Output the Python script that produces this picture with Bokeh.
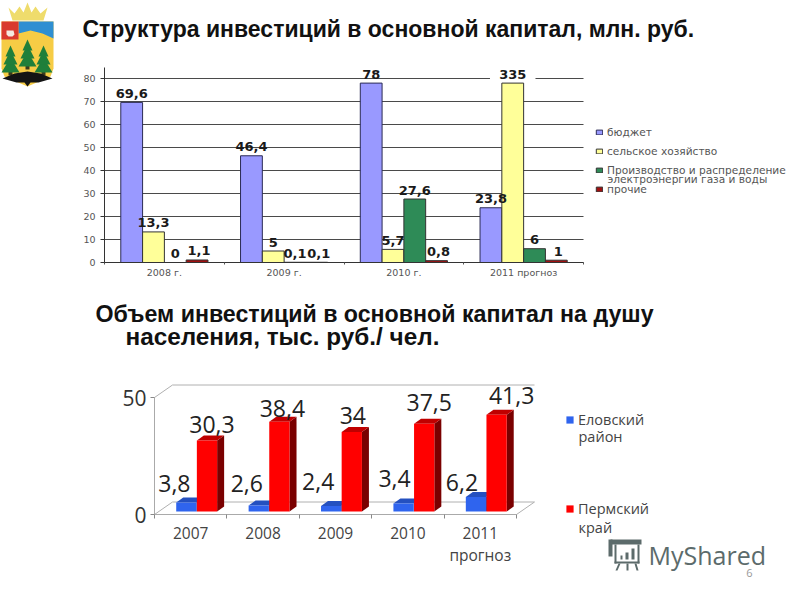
import numpy as np
from bokeh.plotting import figure
from bokeh.layouts import column
from bokeh.models import ColumnDataSource, Range1d, FixedTicker, LinearAxis, Legend, LegendItem
from bokeh.core.properties import value
from bokeh.embed import file_html
from bokeh.resources import INLINE

# ---- data: chart 1
periods = ["2008 г.", "2009 г.", "2010 г.", "2011 прогноз"]
budget = [69.6, 46.4, 78, 23.8]
agriculture = [13.3, 5, 5.7, 335]
energy = [0, 0.1, 27.6, 6]
others = [1.1, 0.1, 0.8, 1]
struct_names = ["бюджет", "сельское хозяйство", "Производство и распределение", "прочие"]
struct_name_cont = "электроэнергии газа и воды"
struct_ticks = [0, 10, 20, 30, 40, 50, 60, 70, 80]
AGRI_CUT = 78  # the 335 bar is cut off by the chart

# ---- data: chart 2
years = ["2007", "2008", "2009", "2010", "2011\nпрогноз"]
yelovsky = [3.8, 2.6, 2.4, 3.4, 6.2]
perm = [30.3, 38.4, 34, 37.5, 41.3]
per_capita_names = ["Еловский", "Пермский"]
per_capita_cont = ["район", "край"]
per_capita_ticks = [0, 50]

TITLE = "Структура инвестиций в основной капитал, млн. руб."
SUB1 = "Объем инвестиций в основной капитал на душу"
SUB2 = "населения, тыс. руб./ чел."

def fmt(v):
    return f"{v:g}".replace(".", ",")

# layout of the two panels: pixel -> data conversions
U1X, U1Y = 119.75, 2.3
X1 = lambda px: (px - 104) / U1X
Y1 = lambda py: (262 - py) / U1Y
U2X, U2Y = 72.4, 2.34
X2 = lambda px: (px - 154) / U2X
Y2 = lambda py: (514 - py) / U2Y

def deco_text(p, fx, fy, x, y, text, size, color="#111111", font="Open Sans", style="normal", align="left"):
    p.text(x=[fx(x)], y=[fy(y)], text=[text], text_font=value(font), text_font_size=f"{size}px",
           text_color=color, text_font_style=style, text_align=align, text_baseline="middle")

def deco_poly(p, fx, fy, pts, color):
    p.patch(x=[fx(a) for a, _ in pts], y=[fy(b) for _, b in pts], fill_color=color, line_color=None)

def base_fig(h, xr, yr):
    return figure(width=800, height=h, output_backend="svg", toolbar_location=None,
                  x_range=Range1d(*xr), y_range=Range1d(*yr), x_axis_type=None, y_axis_type=None,
                  min_border=0, outline_line_color=None, frame_align=False,
                  background_fill_color="white", border_fill_color="white")

# ================= chart 1 =================
n1 = len(periods)
p1 = base_fig(285, (X1(0), X1(800)), (Y1(285), Y1(0)))

p1.segment(x0=[0] * len(struct_ticks), x1=[n1] * len(struct_ticks), y0=struct_ticks, y1=struct_ticks,
           line_color="#4a4a4a", line_width=1)

p1.add_layout(LinearAxis(fixed_location=0, ticker=FixedTicker(ticks=struct_ticks), bounds=(0, 85),
                         axis_line_color="#333333", major_tick_line_color="#333333",
                         major_tick_out=4, major_tick_in=0, minor_tick_line_color=None,
                         major_label_text_font="DejaVu Sans", major_label_text_font_size="9.5px",
                         major_label_text_color="#555555", major_label_standoff=5), "left")
centers1 = [i + 0.5 for i in range(n1)]
p1.add_layout(LinearAxis(fixed_location=0, ticker=FixedTicker(ticks=centers1, minor_ticks=list(range(n1 + 1))),
                         bounds=(0, n1), major_label_overrides={c: t for c, t in zip(centers1, periods)},
                         major_tick_line_color=None, minor_tick_line_color="#555555",
                         minor_tick_out=2, minor_tick_in=0, axis_line_color="#333333",
                         major_label_text_font="DejaVu Sans", major_label_text_font_size="9.5px",
                         major_label_text_color="#555555", major_label_standoff=-2), "below")

bw = 0.182
fills = ["#9999FF", "#FFFF99", "#2E8B57", "#A01010"]
series = [budget, agriculture, energy, others]
base = np.arange(n1) + 0.136

# white gap behind the 335 label, around the cut-off yellow bar
p1.quad(left=[base[3] + bw * 1.5 - 0.19], right=[base[3] + bw * 1.5 + 0.19],
        bottom=[AGRI_CUT], top=[85], fill_color="white", line_color=None)

rends = []
for k, (vals, col) in enumerate(zip(series, fills)):
    xs = base + bw * (k + 0.5)
    tops = np.minimum(vals, AGRI_CUT)
    rends.append(p1.vbar(x=xs, width=bw, top=tops, bottom=0, fill_color=col,
                         line_color="#2b2b55" if k == 0 else "#333333", line_width=1))
# the value labels lie over all the bars
for k, vals in enumerate(series):
    xs = base + bw * (k + 0.5)
    src = ColumnDataSource(dict(x=xs, y=np.minimum(vals, AGRI_CUT), t=[fmt(v) for v in vals]))
    p1.text("x", "y", "t", source=src, text_font=value("DejaVu Sans"), text_font_style="bold",
            text_font_size="13px", text_align="center", text_baseline="middle",
            text_color="#1a1a1a", y_offset=-9, x_offset=2 if k == 3 else 0)

leg1 = Legend(items=[LegendItem(label=value(n), renderers=[r]) for n, r in zip(struct_names, rends)],
              location=(595, 90), orientation="vertical", padding=0, margin=0, spacing=7,
              background_fill_alpha=0, border_line_color=None, glyph_width=8, glyph_height=6,
              label_text_font="DejaVu Sans", label_text_font_size="10.6px", label_text_color="#555555",
              label_standoff=4, label_height=8)
p1.add_layout(leg1, "center")
deco_text(p1, X1, Y1, 607, 178, struct_name_cont, 10.6, color="#555555", font="DejaVu Sans")

deco_text(p1, X1, Y1, 82, 28, TITLE, 23, font="Liberation Sans", style="bold")

# logo
poly1 = lambda pts, col: deco_poly(p1, X1, Y1, pts, col)
poly1([(8, 7), (14, 13), (19, 6), (23, 12), (27, 2), (31, 12), (35, 6), (40, 13), (47, 7), (43, 20), (12, 20)], "#EFDC6C")
poly1([(1, 21), (53, 21), (53, 68), (50, 76), (27, 86), (4, 76), (1, 68)], "#F6CC45")
poly1([(18, 21), (53, 21), (53, 38), (42, 33), (30, 30), (18, 33)], "#2E8FD2")
poly1([(1, 21), (18, 21), (18, 39), (1, 39)], "#D93A2E")
poly1([(6, 30), (13, 30), (14, 34), (12, 36), (8, 36), (6, 34)], "#F4EAE0")
for cx, top in ((10, 45), (27, 39), (43, 45)):
    poly1([(cx - 2, top + 24), (cx + 2, top + 24), (cx + 2, top + 30), (cx - 2, top + 30)], "#3B3B1E")
    poly1([(cx, top + 12), (cx + 9, top + 27), (cx - 9, top + 27)], "#1F7F3A")
    poly1([(cx, top + 5), (cx + 7, top + 19), (cx - 7, top + 19)], "#1F7F3A")
    poly1([(cx, top), (cx + 5, top + 11), (cx - 5, top + 11)], "#1F7F3A")
poly1([(2, 78), (14, 73), (27, 71), (40, 73), (52, 78), (38, 82), (30, 82), (27, 86), (24, 82), (16, 82)], "#141414")

# ================= chart 2 =================
n2 = len(years)
p2 = base_fig(315, (X2(0), X2(800)), (Y2(600), Y2(285)))

deco_text(p2, X2, Y2, 95, 313, SUB1, 23.2, font="Liberation Sans", style="bold")
deco_text(p2, X2, Y2, 125, 336, SUB2, 24.3, font="Liberation Sans", style="bold")

p2.add_layout(LinearAxis(fixed_location=0, ticker=FixedTicker(ticks=per_capita_ticks), bounds=(0, 50),
                         axis_line_color="#aaaaaa", major_tick_line_color="#888888",
                         major_tick_out=4, major_tick_in=0, minor_tick_line_color=None,
                         major_label_text_font="Open Sans", major_label_text_font_size="21px",
                         major_label_text_color="#333333", major_label_standoff=4), "left")
centers2 = [i + 0.5 for i in range(n2)]
p2.add_layout(LinearAxis(fixed_location=0, ticker=FixedTicker(ticks=centers2, minor_ticks=list(range(n2 + 1))),
                         bounds=(0, n2), major_label_overrides={c: t for c, t in zip(centers2, years)},
                         major_tick_line_color=None, minor_tick_line_color="#888888",
                         minor_tick_out=4, minor_tick_in=0, axis_line_color="#aaaaaa",
                         major_label_text_font="Open Sans", major_label_text_font_size="15.5px",
                         major_label_text_color="#444444", major_label_standoff=1,
                         major_label_text_line_height=1.0), "below")

# 3-D box walls
wdx, wdy = 18 / U2X, 12.5 / U2Y
p2.multi_line(xs=[[0, wdx, n2 + wdx], [0, wdx, n2 + wdx, n2]],
              ys=[[50, 50 + wdy, 50 + wdy], [0, wdy, wdy, 0]], line_color="#b0b0b0", line_width=1)

b_w = 0.28
lift = 3 / U2Y
ddx, ddy = 7 / U2X, 5 / U2Y

def bars3d(vals, off, front, side, top):
    lefts = np.arange(n2) + off
    rights = lefts + b_w
    tops = np.array(vals) + lift
    p2.patches(xs=[[r, r + ddx, r + ddx, r] for r in rights],
               ys=[[lift, lift + ddy, t + ddy, t] for t in tops],
               fill_color=side, line_color=None)
    p2.patches(xs=[[l, l + ddx, r + ddx, r] for l, r in zip(lefts, rights)],
               ys=[[t, t + ddy, t + ddy, t] for t in tops],
               fill_color=top, line_color=None)
    q = p2.quad(left=lefts, right=rights, bottom=lift, top=tops, fill_color=front, line_color=None)
    return q, lefts, rights, tops

rb, lb, rb2, tb = bars3d(yelovsky, 0.30, "#2F64EE", "#1C3FA8", "#2450C0")
rr, lr, rr2, tr = bars3d(perm, 0.585, "#FF0000", "#7A0000", "#BF0000")

blue_dx = [-12, -12, -13, -9, -14]
blue_dy = [-19, -22, -24, -25, -14]
red_dx = [5, 3, 1, 5, 15]
red_dy = [-16, -13, -16, -21, -19]
for vals, ls, rs, ts, dxs, dys in ((yelovsky, lb, rb2, tb, blue_dx, blue_dy), (perm, lr, rr2, tr, red_dx, red_dy)):
    src = ColumnDataSource(dict(x=(ls + rs) / 2, y=ts, t=[fmt(v) for v in vals], dx=dxs, dy=dys))
    p2.text("x", "y", "t", source=src, x_offset="dx", y_offset="dy", text_font=value("Open Sans"),
            text_font_size="23px", text_align="center", text_baseline="middle", text_color="#222222")

leg2 = Legend(items=[LegendItem(label=value(n), renderers=[r]) for n, r in zip(per_capita_names, (rb, rr))],
              location=(565, 82), orientation="vertical", padding=0, margin=0, spacing=70,
              background_fill_alpha=0, border_line_color=None, glyph_width=9, glyph_height=9,
              label_text_font="Open Sans", label_text_font_size="14.5px", label_text_color="#444444",
              label_standoff=4)
p2.add_layout(leg2, "center")
deco_text(p2, X2, Y2, 578, 436, per_capita_cont[0], 14.5, color="#444444")
deco_text(p2, X2, Y2, 578, 527, per_capita_cont[1], 14.5, color="#444444")

# watermark
deco_text(p2, X2, Y2, 648, 554, "MyShared", 25, color="#5c6b6b")
deco_text(p2, X2, Y2, 749, 572, "6", 11, color="#999999", align="center")
poly2 = lambda pts: deco_poly(p2, X2, Y2, pts, "#5c6b6b")
poly2([(610, 539), (641, 539), (641, 544), (610, 544)])
poly2([(608, 539), (612, 539), (612, 556), (608, 556)])
poly2([(614, 544), (616, 544), (616, 563), (614, 563)])
poly2([(637, 544), (639, 544), (639, 563), (637, 563)])
poly2([(614, 561), (639, 561), (639, 563), (614, 563)])
poly2([(620, 555), (622, 555), (622, 559), (620, 559)])
poly2([(625, 552), (628, 552), (628, 559), (625, 559)])
poly2([(631, 548), (634, 548), (634, 559), (631, 559)])
poly2([(618, 563), (620, 563), (617, 570), (615, 570)])
poly2([(626, 563), (628, 563), (628, 570), (626, 570)])
poly2([(634, 563), (636, 563), (638, 570), (636, 570)])

page = column(p1, p2, spacing=0)
open("out.html", "w").write(file_html(page, INLINE))
